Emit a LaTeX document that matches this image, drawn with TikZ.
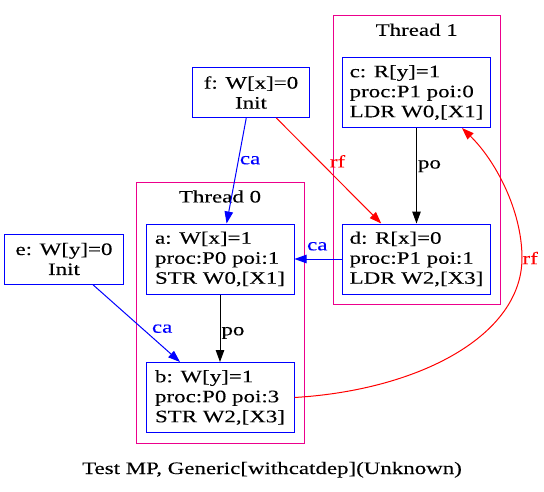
\documentclass[tikz,border=0pt]{standalone}
\usepackage{fontspec}
\setmainfont{Liberation Serif}[FakeStretch=1.31,FakeBold=0.12]
\usetikzlibrary{arrows.meta, positioning}

\begin{document}
\begin{tikzpicture}[x=1pt,y=-1pt,->,>={Triangle[length=12pt,width=8.5pt]},auto,
                     line width=1pt,font=\fontsize{17.5pt}{20pt}\selectfont,
                     event node/.style={rectangle,draw=blue,minimum width=148pt,minimum height=70pt,align=left},
                     init node/.style={rectangle,draw=blue,inner xsep=11pt,minimum height=50pt,align=center},
                     thread box/.style={rectangle,draw=magenta}]

  \useasboundingbox (0,0) rectangle (544,491);

  \node[thread box,minimum width=167pt,minimum height=289pt] (t1) at (416.7,160.3) {};
  \node[below=4.5pt of t1.north] (t1 label) {Thread 1};
  \node[thread box,minimum width=168pt,minimum height=261pt] (t0) at (220,313) {};
  \node[below=4.5pt of t0.north] (t0 label) {Thread 0};

  \node[event node] (c) at (416.5,92.5) {c: R[y]=1\\proc:P1 poi:0\\LDR W0,[X1]};
  \node[event node] (d) at (416.5,259) {d: R[x]=0\\proc:P1 poi:1\\LDR W2,[X3]};
  \node[event node] (a) at (220,259) {a: W[x]=1\\proc:P0 poi:1\\STR W0,[X1]};
  \node[event node] (b) at (220,397.5) {b: W[y]=1\\proc:P0 poi:3\\STR W2,[X3]};
  \node[init node] (f) at (251,92.5) {f: W[x]=0\\Init};
  \node[init node] (e) at (64,259) {e: W[y]=0\\Init};
  \node[anchor=base] (caption) at (272,474) {Test MP, Generic[withcatdep](Unknown)};

  \path[blue,every node/.style={inner sep=1pt}]
   (f) edge node[pos=0.4,right] {ca} (a)
   (e) edge node[pos=0.57,right=8pt] {ca} (b)
   (d) edge node[pos=0.52,above=7pt] {ca} (a);
  \path[red,every node/.style={inner sep=1pt}]
   (f) edge node[pos=0.41,right=9pt] {rf} (d);
  \path[black,every node/.style={inner sep=1pt}]
   (c) edge node[pos=0.4,right] {po} (d)
   (a) edge node[pos=0.57,right] {po} (b);
  \draw[red] (b.east) .. controls (420,390) and (522,335) .. (522,258)
    node[right,inner sep=0pt] {rf}
    .. controls (522,210) and (495,160) .. (c.-38);
\end{tikzpicture}
\end{document}
